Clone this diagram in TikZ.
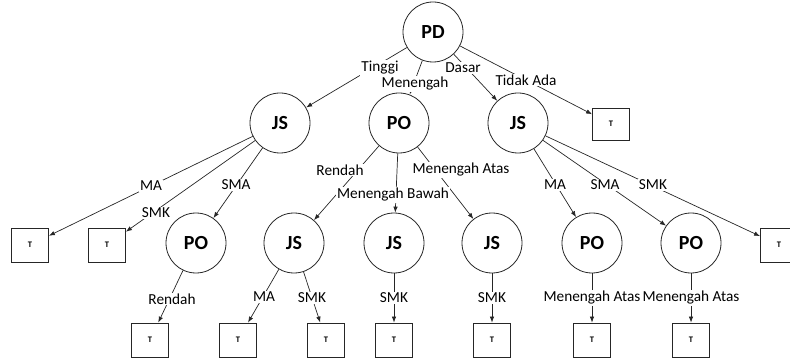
\documentclass[tikz,border=0pt]{standalone}
\usepackage{fontspec}
\setmainfont{Carlito}
\usetikzlibrary{arrows.meta}
\begin{document}
\begin{tikzpicture}[x=1pt,y=-1pt,
 st/.style={circle,draw=black!85,line width=0.8pt,minimum size=60pt,inner sep=0pt,font=\fontsize{20}{22}\selectfont\bfseries},
 tbox/.style={rectangle,draw=black!85,line width=0.8pt,minimum width=37pt,minimum height=34pt,inner sep=0pt,font=\fontsize{8.5}{9}\selectfont\bfseries},
 lbl/.style={fill=white,inner sep=1pt,font=\fontsize{15.3}{17}\selectfont},
 arr/.style={-{Latex[length=6pt,width=4.5pt]},line width=0.7pt,draw=black!85}]
\useasboundingbox (0,0) rectangle (790,358);
% nodes
\node[st] (PD) at (433,32) {PD};
\node[st] (JSa) at (280,123) {JS};
\node[st] (POa) at (399,123) {PO};
\node[st] (JSb) at (518,123) {JS};
\node[tbox,minimum height=32pt] (Ttop) at (611,124) {T};
\node[tbox] (Ta) at (30,245) {T};
\node[tbox] (Tb) at (107,245) {T};
\node[st] (POb) at (196,243) {PO};
\node[st] (JSc) at (294,243) {JS};
\node[st] (JSd) at (394,243) {JS};
\node[st] (JSe) at (492,243) {JS};
\node[st] (POc) at (592,243) {PO};
\node[st] (POd) at (691,243) {PO};
\node[tbox] (Tc) at (779,245) {T};
\node[tbox] (Td) at (150,340) {T};
\node[tbox] (Te) at (238,340) {T};
\node[tbox] (Tf) at (326,340) {T};
\node[tbox] (Tg) at (394,340) {T};
\node[tbox] (Th) at (492,340) {T};
\node[tbox] (Ti) at (592,340) {T};
\node[tbox] (Tj) at (691,340) {T};
% edges
\draw[arr] (PD) -- (JSa);
\draw[arr] (PD) -- (POa);
\draw[arr] (PD) -- (JSb);
\draw[arr] (PD) -- (Ttop);
\draw[arr] (JSa) -- (Ta);
\draw[arr] (JSa) -- (Tb);
\draw[arr] (JSa) -- (POb);
\draw[arr] (POa) -- (JSc);
\draw[arr] (POa) -- (JSd);
\draw[arr] (POa) -- (JSe);
\draw[arr] (JSb) -- (POc);
\draw[arr] (JSb) -- (POd);
\draw[arr] (JSb) -- (Tc);
\draw[arr] (POb) -- (Td);
\draw[arr] (JSc) -- (Te);
\draw[arr] (JSc) -- (Tf);
\draw[arr] (JSd) -- (Tg);
\draw[arr] (JSe) -- (Th);
\draw[arr] (POc) -- (Ti);
\draw[arr] (POd) -- (Tj);
% labels
\node[lbl] (l1) at (380,68) {Tinggi};
\node[lbl] (l2) at (415,84) {Menengah};
\node[lbl] (l3) at (463,68) {Dasar};
\node[lbl] (l4) at (526,80) {Tidak Ada};
\node[lbl] (l5) at (151,186) {MA};
\node[lbl] (l6) at (156,213) {SMK};
\node[lbl] (l7) at (236,185) {SMA};
\node[lbl] (l8) at (340,170) {Rendah};
\node[lbl] (l9) at (393,195) {Menengah Bawah};
\node[lbl] (l10) at (461,170) {Menengah Atas};
\node[lbl] (l11) at (555,185) {MA};
\node[lbl] (l12) at (605,185) {SMA};
\node[lbl] (l13) at (653,185) {SMK};
\node[lbl] (l14) at (172,299) {Rendah};
\node[lbl] (l15) at (264,297) {MA};
\node[lbl] (l16) at (312,298) {SMK};
\node[lbl] (l17) at (394,298) {SMK};
\node[lbl] (l18) at (492,298) {SMK};
\node[lbl] (l19) at (592,298) {Menengah Atas};
\node[lbl] (l20) at (691,298) {Menengah Atas};
\end{tikzpicture}
\end{document}
